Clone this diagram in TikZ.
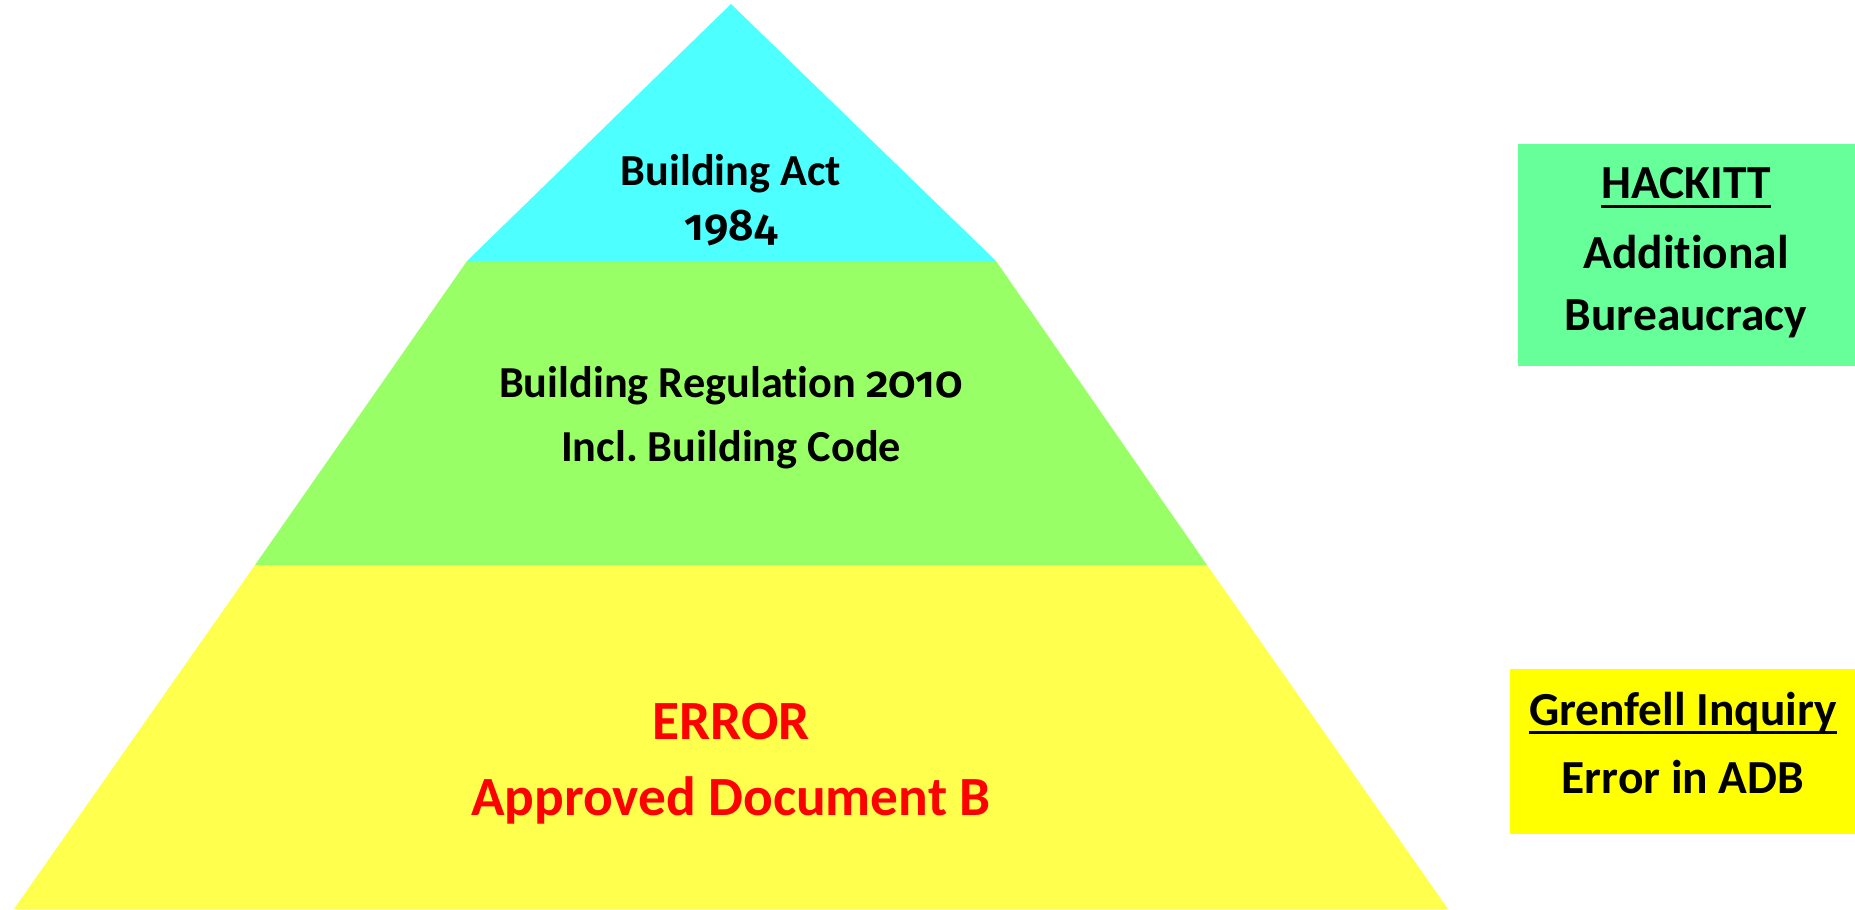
\documentclass[tikz,border=0pt]{standalone}
\usepackage{fontspec}
\setmainfont{Carlito}[Ligatures=NoCommon]
\newfontfamily\figs{Fira Sans}[Numbers=OldStyle,BoldFont={Fira Sans SemiBold}]
\usepackage{tikz}
\usetikzlibrary{positioning}

\definecolor{actcyan}{RGB}{77,255,255}
\definecolor{reggreen}{RGB}{153,255,102}
\definecolor{adbyellow}{RGB}{255,255,77}
\definecolor{hackgreen}{RGB}{102,255,153}
\definecolor{inqyellow}{RGB}{255,255,0}
\definecolor{errred}{RGB}{255,0,0}

\tikzset{
  tier/.style={anchor=base,inner sep=0pt,font=\bfseries\fontsize{25.2}{30}\selectfont},
  errtxt/.style={anchor=base,inner sep=0pt,text=errred,font=\bfseries\fontsize{31.5}{36}\selectfont},
  sidetxt/.style={anchor=base,inner sep=0pt,font=\bfseries\fontsize{27}{32}\selectfont},
  sidebox/.style={draw=none,inner sep=0pt,anchor=north west}
}

\begin{document}
\begin{tikzpicture}[x=0.02cm,y=-0.02cm]
    \useasboundingbox (0,0) rectangle (1855,909);
    % pyramid tiers
    \fill[adbyellow] (255,565) -- (1207,565) -- (1448,909) -- (14,909) -- cycle;
    \fill[reggreen] (467,261) -- (996,261) -- (1207,565) -- (255,565) -- cycle;
    \fill[actcyan] (731,4) -- (996,261) -- (467,261) -- cycle;
    \node[tier] (act) at (731,185) {Building Act};
    \node[tier] (actyr) at (731,240) {{\figs 1984}};
    \node[tier] (reg) at (731,397) {Building Regulation {\figs 2010}};
    \node[tier] (code) at (731,461) {Incl.\ Building Code};
    \node[errtxt] (err) at (731,739) {ERROR};
    \node[errtxt] (adb) at (731,815) {Approved Document B};
    % side notes
    \node[sidebox,fill=hackgreen,minimum width=337*0.02cm,minimum height=222*0.02cm] (hackbox) at (1518,144) {};
    \node[sidetxt] (hack) at (1686,198) {HACKITT};
    \draw[line width=1.7pt] ([yshift=-5pt]hack.base west) -- ([yshift=-5pt]hack.base east);
    \node[sidetxt] (addl) at (1686,268) {Additional};
    \node[sidetxt] (bur) at (1686,330) {Bureaucracy};
    \node[sidebox,fill=inqyellow,minimum width=345*0.02cm,minimum height=165*0.02cm] (inqbox) at (1510,669) {};
    \node[sidetxt] (inq) at (1683,725) {Grenfell Inquiry};
    \draw[line width=1.7pt] ([yshift=-4pt]inq.base west) -- ([yshift=-4pt]inq.base east);
    \node[sidetxt] (adberr) at (1683,793) {Error in ADB};
\end{tikzpicture}
\end{document}
